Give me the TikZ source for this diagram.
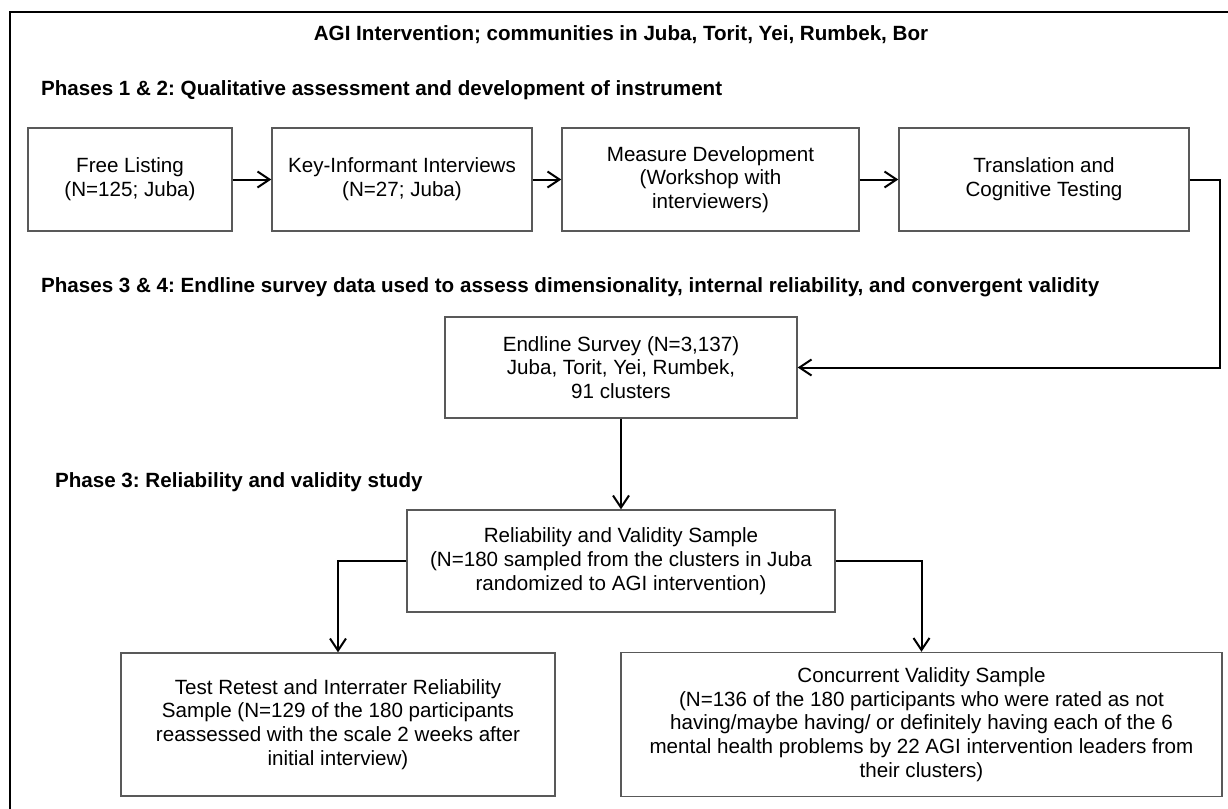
\documentclass[tikz,border=0pt]{standalone}
\usepackage{fontspec}
\setmainfont{Liberation Sans}
\usepackage{tikz}
\usetikzlibrary{arrows.meta}
\frenchspacing

\begin{document}
\begin{tikzpicture}[x=0.5pt, y=-0.5pt,
        font=\fontsize{10.3}{11.85}\selectfont,
        stage/.style={draw=black!65, line width=0.7pt, rectangle, align=center, inner sep=2pt},
        heading/.style={font=\fontsize{10.3}{11.85}\selectfont\bfseries, anchor=west},
        flow/.style={->, line width=1pt},
        >={Straight Barb[length=6pt,width=8pt]}]
        \useasboundingbox (0,0) rectangle (1228,809);

        % Outer frame (only top and left edges fall inside the page)
        \draw[line width=1.4pt] (1228,12) -- (10,12) -- (10,809);

        % Titles
        \node[font=\fontsize{10.3}{11.85}\selectfont\bfseries] (title) at (621,35) {AGI Intervention; communities in Juba, Torit, Yei, Rumbek, Bor};
        \node[heading] (ph12) at (34,90) {Phases 1 \& 2: Qualitative assessment and development of instrument};
        \node[heading] (ph34) at (34,287) {Phases 3 \& 4: Endline survey data used to assess dimensionality, internal reliability, and convergent validity};
        \node[heading] (ph3) at (48,482) {Phase 3: Reliability and validity study};

        % Phases 1 & 2 boxes
        \node[stage, minimum width=102pt, minimum height=51.5pt] (free) at (130,179.5) {Free Listing\\(N=125; Juba)};
        \node[stage, minimum width=130pt, minimum height=51.5pt] (kii) at (402,179.5) {Key-Informant Interviews\\(N=27; Juba)};
        \node[stage, minimum width=148.5pt, minimum height=51.5pt] (measure) at (710.5,179.5) {Measure Development\\(Workshop with\\interviewers)};
        \node[stage, minimum width=145pt, minimum height=51.5pt] (transl) at (1044,179.5) {Translation and\\Cognitive Testing};

        % Survey and samples
        \node[stage, minimum width=176pt, minimum height=50.5pt] (endline) at (621,367.5) {Endline Survey (N=3,137)\\Juba, Torit, Yei, Rumbek,\\91 clusters};
        \node[stage, minimum width=214pt, minimum height=51pt] (relval) at (621,561) {Reliability and Validity Sample\\(N=180 sampled from the clusters in Juba\\randomized to AGI intervention)};
        \node[stage, minimum width=217pt, minimum height=71.5pt] (retest) at (338,724.5) {Test Retest and Interrater Reliability\\Sample (N=129 of the 180 participants\\reassessed with the scale 2 weeks after\\initial interview)};
        \node[stage, minimum width=300.5pt, minimum height=72pt] (concur) at (921.5,724.5) {Concurrent Validity Sample\\(N=136 of the 180 participants who were rated as not\\having/maybe having/ or definitely having each of the 6\\mental health problems by 22 AGI intervention leaders from\\their clusters)};

        % Connectors
        \coordinate (turn) at (1220,179.5);
        \draw[flow] (free) -- (kii);
        \draw[flow] (kii) -- (measure);
        \draw[flow] (measure) -- (transl);
        \draw[flow] (transl.east) -- (turn) |- (endline.east);
        \draw[flow] (endline) -- (relval);
        \draw[flow] (relval.west) -| (retest.north);
        \draw[flow] (relval.east) -| (concur.north);
    \end{tikzpicture}
\end{document}
